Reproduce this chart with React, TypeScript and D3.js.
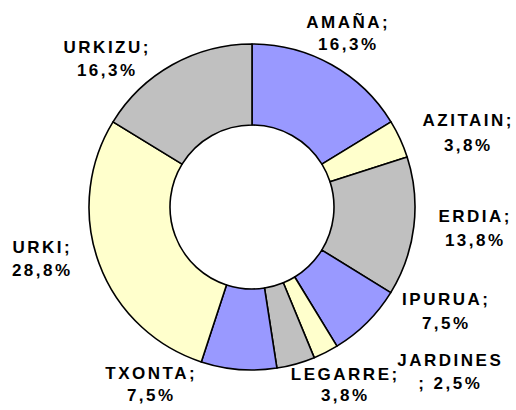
import React from "react";
import * as d3 from "d3";

const categories = ["AMAÑA", "AZITAIN", "ERDIA", "IPURUA", "JARDINES", "LEGARRE", "TXONTA", "URKI", "URKIZU"];
const values = [16.3, 3.8, 13.8, 7.5, 2.5, 3.8, 7.5, 28.8, 16.3];
const palette = ["#9999FF", "#FFFFCC", "#C0C0C0"];
// label lines: first line suffix / second line prefix
const labelSplit = [";", ";", ";", ";", "", ";", ";", ";", ";"];
const labelSecondPrefix = ["", "", "", "", "; ", "", "", "", ""];
// label anchor positions [x, baseline1, baseline2]
const labelPos: [number, number, number][] = [
  [347, 28, 50],
  [467, 126, 151],
  [474, 222, 246],
  [445, 305, 329],
  [449, 366, 389],
  [344, 380, 401],
  [150, 379, 401],
  [41, 253, 276],
  [106, 53, 76],
];

const W = 516;
const H = 410;
const cx = 252;
const cy = 207;
const outerR = 163;
const innerR = 82;

const fmt = (v: number) => d3.format(".1f")(v).replace(".", ",") + "%";

export default function App() {
  const pie = d3
    .pie<number>()
    .sort(null)
    .value((d) => d)
    .startAngle(0)
    .endAngle(2 * Math.PI);
  const arcs = pie(values);
  const arcGen = d3.arc<d3.PieArcDatum<number>>().innerRadius(innerR).outerRadius(outerR);
  const ls = 2.5;
  return (
    <svg
      width={W}
      height={H}
      style={{ position: "absolute", left: 0, top: 0, background: "#fff" }}
      fontFamily="'Liberation Sans', Arial, sans-serif"
    >
      <g transform={`translate(${cx},${cy})`}>
        {arcs.map((a, i) => (
          <path
            key={categories[i]}
            d={arcGen(a) || ""}
            fill={palette[i % palette.length]}
            stroke="#000"
            strokeWidth={1.6}
            strokeLinejoin="round"
          />
        ))}
      </g>
      {categories.map((c, i) => {
        const [x, y1, y2] = labelPos[i];
        return (
          <g key={c} fontSize={17} fontWeight="bold" fill="#000" textAnchor="middle" letterSpacing={ls}>
            <text x={x + ls / 2} y={y1}>
              {c + labelSplit[i]}
            </text>
            <text x={x + ls / 2} y={y2}>
              {labelSecondPrefix[i] + fmt(values[i])}
            </text>
          </g>
        );
      })}
    </svg>
  );
}
